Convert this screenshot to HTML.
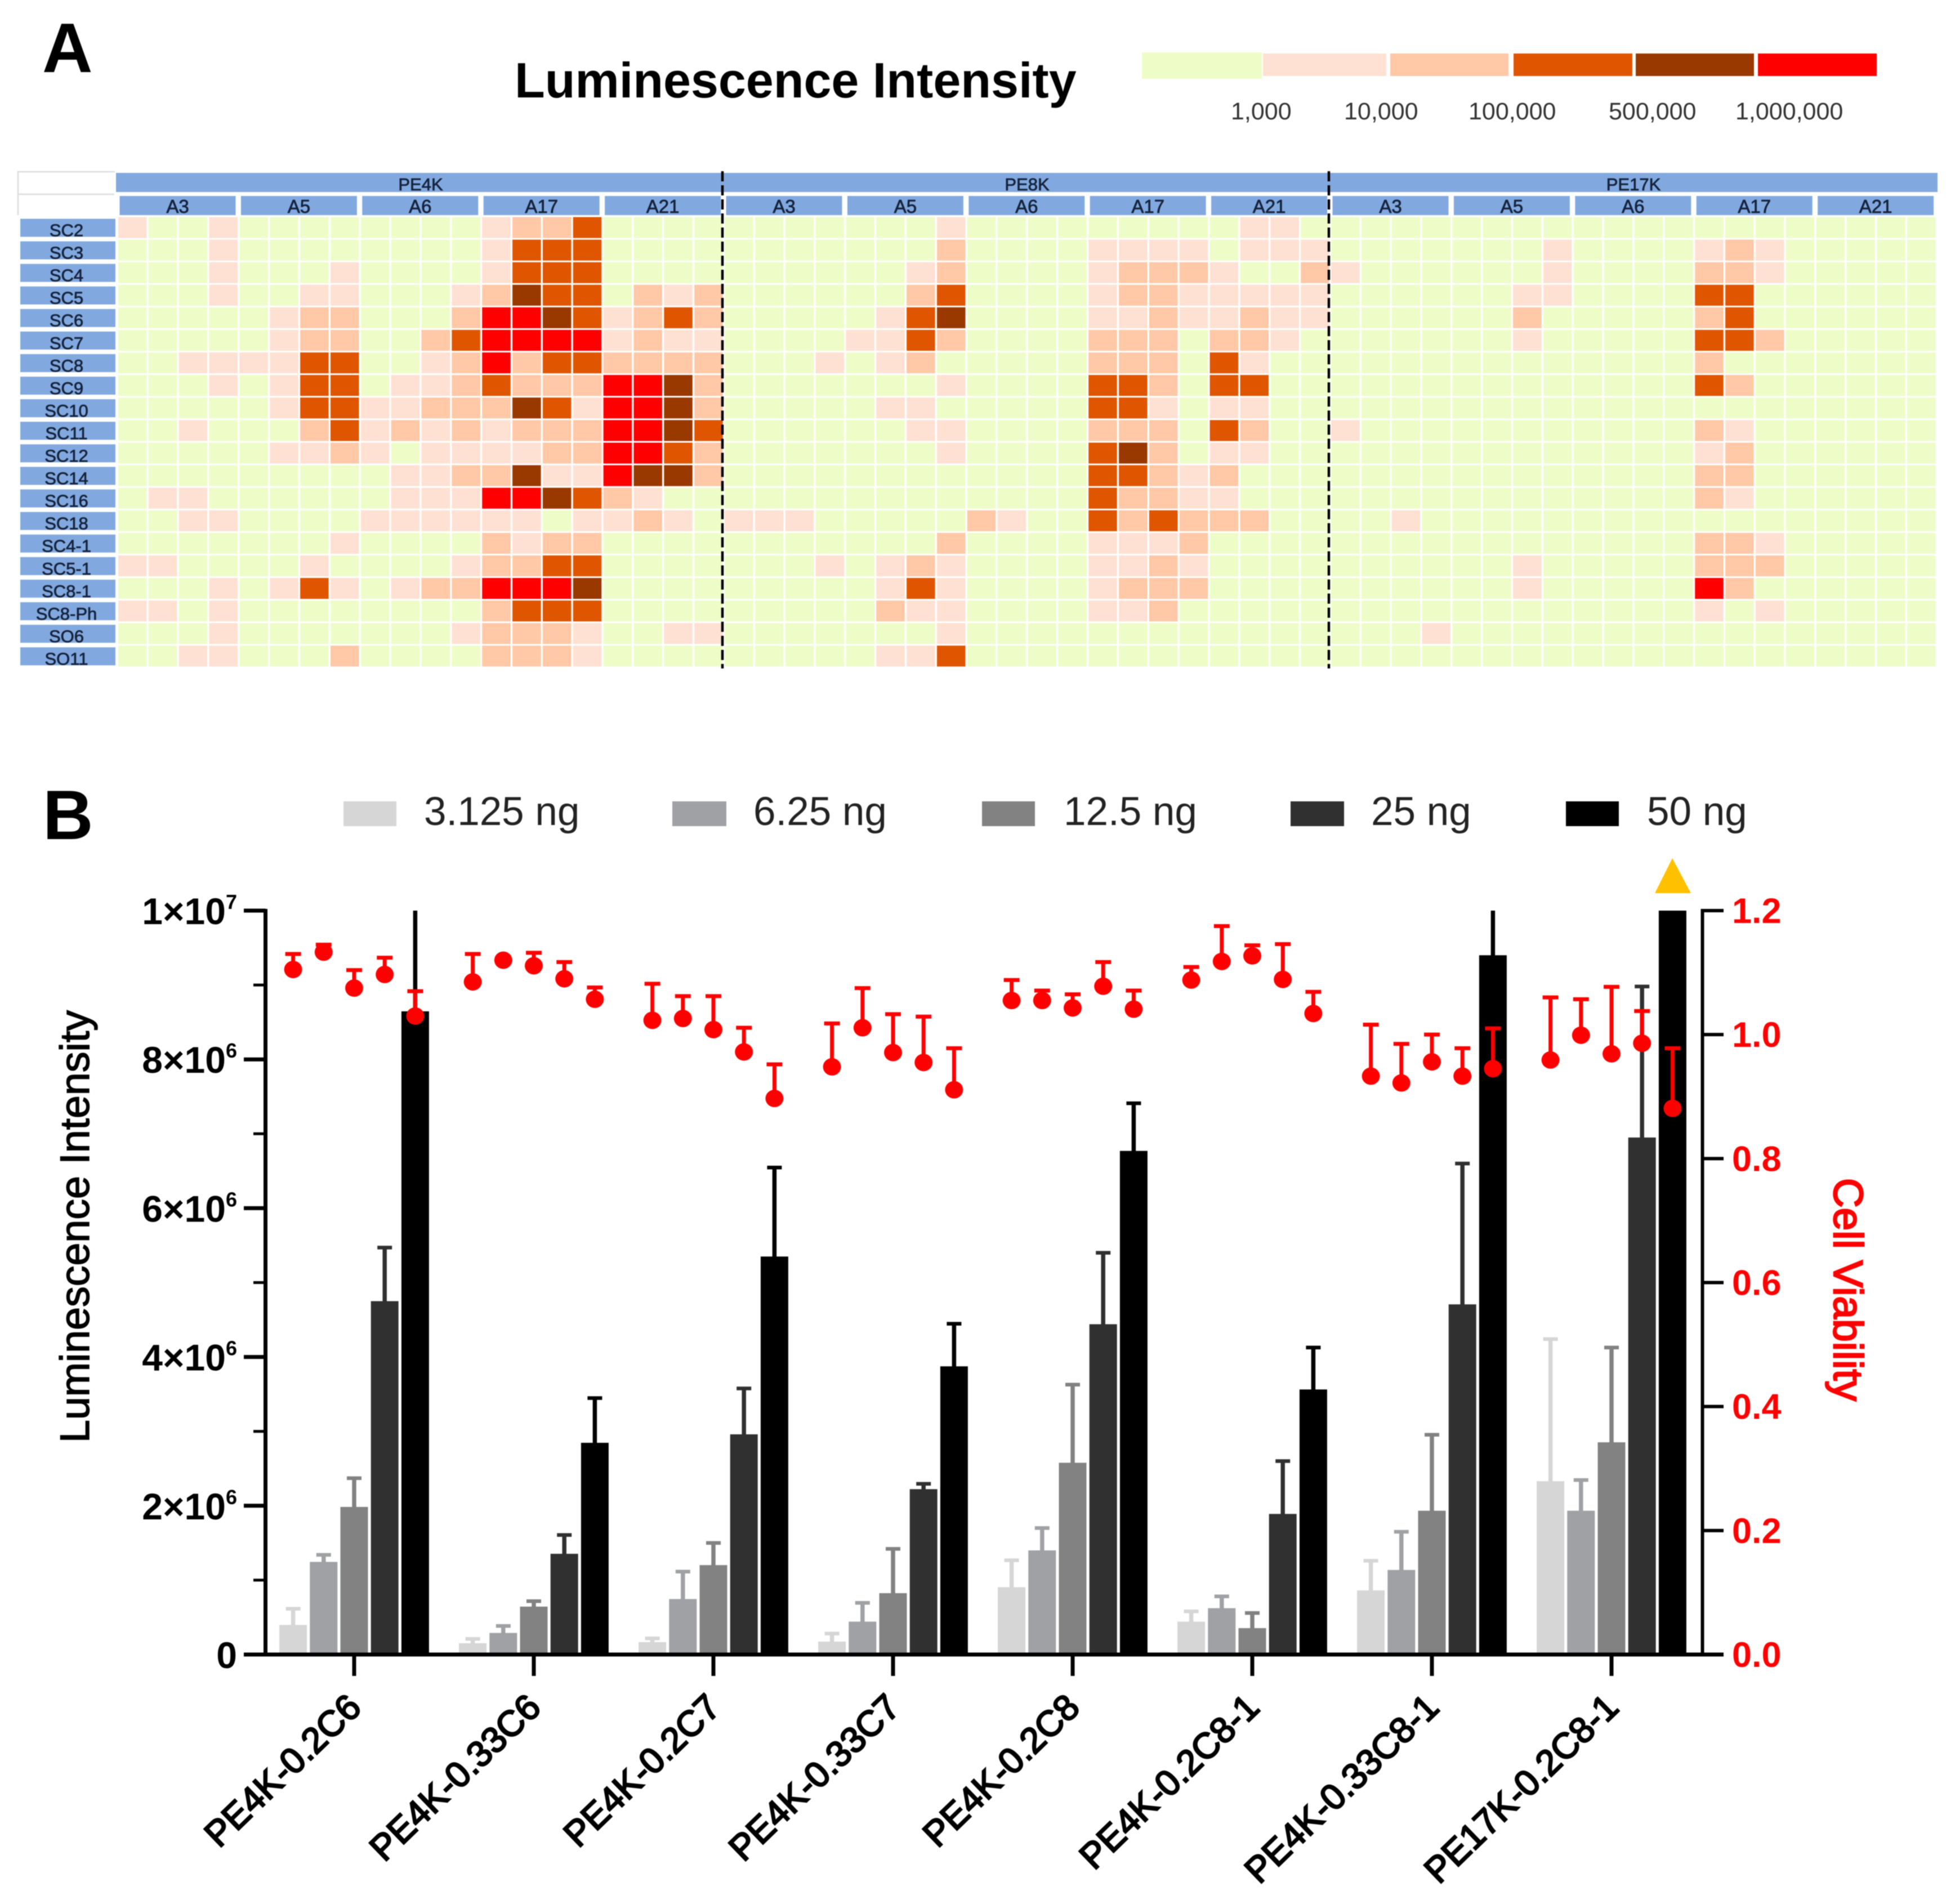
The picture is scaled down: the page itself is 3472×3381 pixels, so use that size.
<!DOCTYPE html>
<html lang="en">
<head>
<meta charset="utf-8">
<title>Luminescence Intensity</title>
<style>
html,body{margin:0;padding:0;background:#fff;}
svg{display:block;filter:blur(0.8px);}
text{font-family:"Liberation Sans",sans-serif;}
</style>
</head>
<body>
<svg id="figure" xmlns="http://www.w3.org/2000/svg" width="3472" height="3381" viewBox="0 0 3472 3381">
  <rect x="0" y="0" width="3472" height="3381" fill="#ffffff"/>

  <text x="75" y="128" font-size="124" font-weight="700" fill="#000">A</text>
  <text x="914" y="173" font-size="88" font-weight="700" fill="#000">Luminescence Intensity</text>

  <g>
    <rect x="2028" y="93" width="213" height="47" fill="#EEFDC8"/>
    <rect x="2243" y="95" width="219" height="40" fill="#FFE1D3"/>
    <rect x="2469" y="95" width="210" height="40" fill="#FFC8A6"/>
    <rect x="2688" y="95" width="211" height="40" fill="#E05500"/>
    <rect x="2905" y="95" width="210" height="40" fill="#993900"/>
    <rect x="3122" y="95" width="211" height="40" fill="#FF0000"/>
    <text x="2186" y="212" font-size="43" fill="#333">1,000</text>
    <text x="2387" y="212" font-size="43" fill="#333">10,000</text>
    <text x="2608" y="212" font-size="43" fill="#333">100,000</text>
    <text x="2857" y="212" font-size="43" fill="#333">500,000</text>
    <text x="3082" y="212" font-size="43" fill="#333">1,000,000</text>
  </g>

  <g id="heatmap">
    <line x1="31" y1="305" x2="204" y2="305" stroke="#dcdcdc" stroke-width="2.5"/>
    <line x1="31" y1="345" x2="203" y2="345" stroke="#dcdcdc" stroke-width="2.5"/>
    <line x1="32" y1="304" x2="32" y2="382" stroke="#dcdcdc" stroke-width="2.5"/>
  </g>

  <text x="76" y="1490" font-size="124" font-weight="700" fill="#000">B</text>
  <g>
    <rect x="610" y="1423" width="94" height="44" fill="#D6D6D6"/>
    <text x="753" y="1465" font-size="71" fill="#222">3.125 ng</text>
    <rect x="1194" y="1423" width="96" height="44" fill="#A0A1A4"/>
    <text x="1338" y="1465" font-size="71" fill="#222">6.25 ng</text>
    <rect x="1744" y="1423" width="94" height="44" fill="#828282"/>
    <text x="1889" y="1465" font-size="71" fill="#222">12.5 ng</text>
    <rect x="2292" y="1423" width="95" height="44" fill="#303030"/>
    <text x="2435" y="1465" font-size="71" fill="#222">25 ng</text>
    <rect x="2781" y="1423" width="94" height="44" fill="#000000"/>
    <text x="2925" y="1465" font-size="71" fill="#222">50 ng</text>
  </g>

  <g id="bars"></g>

  <text transform="translate(158 2178) rotate(-90)" text-anchor="middle" font-size="73.5" fill="#000" stroke="#000" stroke-width="1.5">Luminescence Intensity</text>
  <text transform="translate(3257 2290) rotate(90)" text-anchor="middle" font-size="73" fill="#ff0000" stroke="#ff0000" stroke-width="2.5">Cell Viability</text>
  <polygon points="2970,1524 3003,1586 2939,1586" fill="#FFC000"/>
</svg>

<script>
// ---------- Heatmap data (level 0-5 per cell) ----------
const heatRowLabels = ['SC2','SC3','SC4','SC5','SC6','SC7','SC8','SC9','SC10','SC11','SC12','SC14','SC16','SC18','SC4-1','SC5-1','SC8-1','SC8-Ph','SO6','SO11'];
const heatPolymers = ['PE4K','PE8K','PE17K'];
const heatAntibodies = ['A3','A5','A6','A17','A21'];
const heatPE4K = [
 [1,0,0,1, 0,0,0,0, 0,0,0,0, 1,2,2,3, 0,0,0,0],
 [0,0,0,1, 0,0,0,0, 0,0,0,0, 1,3,3,3, 0,0,0,0],
 [0,0,0,1, 0,0,0,1, 0,0,0,0, 1,3,3,3, 0,0,0,0],
 [0,0,0,1, 0,0,1,1, 0,0,0,1, 2,4,3,3, 0,2,1,2],
 [0,0,0,0, 0,1,2,2, 0,0,0,2, 5,5,4,3, 1,2,3,2],
 [0,0,0,0, 0,1,2,2, 0,0,2,3, 5,5,5,5, 1,2,1,1],
 [0,0,1,1, 1,1,3,3, 0,0,1,2, 5,2,3,3, 2,2,2,2],
 [0,0,0,1, 0,1,3,3, 0,1,1,2, 3,2,2,2, 5,5,4,2],
 [0,0,0,0, 0,1,3,3, 1,1,2,2, 2,4,3,1, 5,5,4,2],
 [0,0,1,0, 0,0,2,3, 1,2,1,2, 1,2,2,2, 5,5,4,3],
 [0,0,0,0, 0,1,1,2, 1,0,1,1, 1,1,2,2, 5,5,3,2],
 [0,0,0,0, 0,0,0,0, 0,1,1,2, 2,4,1,1, 5,4,4,2],
 [0,1,1,0, 0,0,0,0, 0,1,1,1, 5,5,4,3, 2,1,0,0],
 [0,0,1,1, 0,0,0,0, 1,1,1,1, 1,1,0,1, 1,2,1,0],
 [0,0,0,0, 0,0,0,1, 0,0,0,0, 2,1,2,2, 0,0,0,0],
 [1,1,0,0, 0,0,1,0, 0,0,0,1, 2,2,3,3, 0,0,0,0],
 [0,0,0,1, 0,1,3,1, 0,1,2,2, 5,5,5,4, 0,0,0,0],
 [1,1,0,1, 0,0,0,0, 0,0,0,0, 2,3,3,3, 0,0,0,0],
 [0,0,0,1, 0,0,0,0, 0,0,0,1, 2,2,2,1, 0,0,1,1],
 [0,0,1,1, 0,0,0,2, 0,0,0,0, 2,2,2,1, 0,0,0,0]
];
const heatPE8K = [
 [0,0,0,0, 0,0,0,1, 0,0,0,0, 0,0,0,0, 0,1,1,0],
 [0,0,0,0, 0,0,0,2, 0,0,0,0, 1,1,1,1, 0,1,1,1],
 [0,0,0,0, 0,0,1,2, 0,0,0,0, 1,2,2,2, 1,0,0,2],
 [0,0,0,0, 0,0,2,3, 0,0,0,0, 1,2,2,1, 1,1,1,1],
 [0,0,0,0, 0,1,3,4, 0,0,0,0, 1,1,2,1, 1,2,1,1],
 [0,0,0,0, 1,1,3,2, 0,0,0,0, 2,2,2,0, 2,2,1,0],
 [0,0,0,1, 0,1,2,0, 0,0,0,0, 2,2,2,0, 3,1,0,0],
 [0,0,0,0, 0,0,0,1, 0,0,0,0, 3,3,2,0, 3,3,0,0],
 [0,0,0,0, 0,1,1,0, 0,0,0,0, 3,3,1,0, 1,1,0,0],
 [0,0,0,0, 0,0,1,1, 0,0,0,0, 2,2,2,0, 3,2,0,0],
 [0,0,0,0, 0,0,0,1, 0,0,0,0, 3,4,2,0, 1,1,0,0],
 [0,0,0,0, 0,0,0,0, 0,0,0,0, 3,3,2,1, 2,0,0,0],
 [0,0,0,0, 0,0,0,0, 0,0,0,0, 3,2,2,1, 1,0,0,0],
 [1,1,1,0, 0,0,0,0, 2,1,0,0, 3,2,3,2, 2,2,0,0],
 [0,0,0,0, 0,0,0,2, 0,0,0,0, 1,1,1,2, 0,0,0,0],
 [0,0,0,1, 0,1,2,1, 0,0,0,0, 1,1,2,1, 0,0,0,0],
 [0,0,0,0, 0,1,3,1, 0,0,0,0, 1,2,2,2, 0,0,0,0],
 [0,0,0,0, 0,2,1,1, 0,0,0,0, 1,1,2,0, 0,0,0,0],
 [0,0,0,0, 0,0,0,1, 0,0,0,0, 0,0,0,0, 0,0,0,0],
 [0,0,0,0, 0,1,1,3, 0,0,0,0, 0,0,0,0, 0,0,0,0]
];
const heatPE17K = [
 [0,0,0,0, 0,0,0,0, 0,0,0,0, 0,0,0,0, 0,0,0,0],
 [0,0,0,0, 0,0,0,1, 0,0,0,0, 1,2,1,0, 0,0,0,0],
 [1,0,0,0, 0,0,0,1, 0,0,0,0, 2,2,1,0, 0,0,0,0],
 [0,0,0,0, 0,0,1,1, 0,0,0,0, 3,3,0,0, 0,0,0,0],
 [0,0,0,0, 0,0,2,0, 0,0,0,0, 2,3,0,0, 0,0,0,0],
 [0,0,0,0, 0,0,1,0, 0,0,0,0, 3,3,2,0, 0,0,0,0],
 [0,0,0,0, 0,0,0,0, 0,0,0,0, 2,0,0,0, 0,0,0,0],
 [0,0,0,0, 0,0,0,0, 0,0,0,0, 3,2,0,0, 0,0,0,0],
 [0,0,0,0, 0,0,0,0, 0,0,0,0, 0,0,0,0, 0,0,0,0],
 [1,0,0,0, 0,0,0,0, 0,0,0,0, 2,1,0,0, 0,0,0,0],
 [0,0,0,0, 0,0,0,0, 0,0,0,0, 1,2,0,0, 0,0,0,0],
 [0,0,0,0, 0,0,0,0, 0,0,0,0, 2,2,0,0, 0,0,0,0],
 [0,0,0,0, 0,0,0,0, 0,0,0,0, 2,1,0,0, 0,0,0,0],
 [0,0,1,0, 0,0,0,0, 0,0,0,0, 0,0,0,0, 0,0,0,0],
 [0,0,0,0, 0,0,0,0, 0,0,0,0, 2,2,1,0, 0,0,0,0],
 [0,0,0,0, 0,0,1,0, 0,0,0,0, 2,2,2,0, 0,0,0,0],
 [0,0,0,0, 0,0,1,0, 0,0,0,0, 5,2,0,0, 0,0,0,0],
 [0,0,0,0, 0,0,0,0, 0,0,0,0, 1,0,1,0, 0,0,0,0],
 [0,0,0,1, 0,0,0,0, 0,0,0,0, 0,0,0,0, 0,0,0,0],
 [0,0,0,0, 0,0,0,0, 0,0,0,0, 0,0,0,0, 0,0,0,0]
];
const heatPalette = ['#EEFDC8','#FFE1D3','#FFC8A6','#E05500','#993900','#FF0000'];

// ---------- Bar chart data ----------
const groupLabels = ['PE4K-0.2C6','PE4K-0.33C6','PE4K-0.2C7','PE4K-0.33C7','PE4K-0.2C8','PE4K-0.2C8-1','PE4K-0.33C8-1','PE17K-0.2C8-1'];
const doseColors = ['#D6D6D6','#A0A1A4','#828282','#303030','#000000'];
// luminescence in millions, one row per formulation, one column per dose
const lumMean = [
 [0.398,1.245,1.984,4.75,8.646],
 [0.152,0.29,0.644,1.354,2.846],
 [0.167,0.746,1.202,2.96,5.35],
 [0.174,0.442,0.825,2.223,3.874],
 [0.905,1.4,2.578,4.44,6.77],
 [0.442,0.623,0.355,1.89,3.563],
 [0.862,1.137,1.933,4.707,9.4],
 [2.33,1.933,2.853,6.95,10]
];
const lumErrTop = [
 [0.615,1.34,2.37,5.47,10],
 [0.21,0.384,0.717,1.607,3.447],
 [0.217,1.115,1.5,3.577,6.546],
 [0.282,0.695,1.42,2.295,4.446],
 [1.267,1.70,3.628,5.40,7.41],
 [0.58,0.782,0.558,2.6,4.127],
 [1.26,1.65,2.954,6.6,10],
 [4.24,2.346,4.127,8.98,10]
];
const viabMean = [
 [1.105,1.133,1.075,1.097,1.03],
 [1.085,1.12,1.111,1.09,1.057],
 [1.023,1.026,1.008,0.972,0.897],
 [0.948,1.011,0.971,0.955,0.911],
 [1.055,1.055,1.043,1.078,1.041],
 [1.088,1.118,1.127,1.089,1.034],
 [0.933,0.922,0.956,0.933,0.945],
 [0.959,0.999,0.969,0.986,0.881]
];
const viabErrTop = [
 [1.13,1.145,1.104,1.124,1.07],
 [1.13,1.12,1.132,1.117,1.076],
 [1.082,1.062,1.062,1.011,0.952],
 [1.018,1.075,1.033,1.029,0.978],
 [1.088,1.071,1.065,1.117,1.071],
 [1.109,1.175,1.144,1.146,1.069],
 [1.016,0.985,1.0,0.978,1.01],
 [1.06,1.057,1.077,1.038,0.978]
];
const leftTickValues = [0,2,4,6,8,10];
const leftTickMantissas = ['0','2×10','4×10','6×10','8×10','1×10'];
const leftTickExponents = ['','6','6','6','6','7'];
const leftMinorTicks = [1,3,5,7,9];
const rightTickValues = [0,0.2,0.4,0.6,0.8,1.0,1.2];
const rightTickLabels = ['0.0','0.2','0.4','0.6','0.8','1.0','1.2'];

const NS = 'http://www.w3.org/2000/svg';
function mk(tag, attrs, parent, txt){
  const el = document.createElementNS(NS, tag);
  for (const k in attrs) el.setAttribute(k, attrs[k]);
  if (txt !== undefined) el.textContent = txt;
  parent.appendChild(el);
  return el;
}

// ---------- Heatmap ----------
const hm = document.getElementById('heatmap');
const colWidth = 53.85, rowHeight = 40.05, gridLeft = 208.5, gridTop = 385.5;
const headerInk = '#15233d';
function colX(c){ return gridLeft + c * colWidth; }
function rowY(r){ return gridTop + r * rowHeight; }
const heatGroups = [heatPE4K, heatPE8K, heatPE17K];

heatGroups.forEach(function(matrix, g){
  matrix.forEach(function(row, r){
    row.forEach(function(level, c){
      const cell = mk('rect', {x: colX(g*20+c)+1.5, y: rowY(r), width: colWidth-3.3, height: rowHeight-2.9, fill: heatPalette[level]}, hm);
      
      
    });
  });
});

heatPolymers.forEach(function(name, g){
  const bx = g === 0 ? 206 : colX(g*20);
  const bw = (g === 2 ? 3441 : colX((g+1)*20)) - bx;
  const band = mk('rect', {x: bx, y: 307, width: bw, height: 34, fill: '#82A9DF'}, hm);
  
  
  const t = mk('text', {x: colX(g*20+10), y: 338, 'text-anchor': 'middle', 'font-size': 31, fill: headerInk, stroke: headerInk, 'stroke-width': 0.8}, hm, name);
  
  
  heatAntibodies.forEach(function(ab, k){
    const left = colX(g*20 + k*4) + 4;
    const box = mk('rect', {x: left, y: 348, width: 206, height: 34, fill: '#82A9DF'}, hm);
    
    
    const at = mk('text', {x: left + 103, y: 378, 'text-anchor': 'middle', 'font-size': 33, fill: headerInk, stroke: headerInk, 'stroke-width': 0.8}, hm, ab);
    
    
  });
});

heatRowLabels.forEach(function(label, r){
  const box = mk('rect', {x: 36, y: rowY(r)+3, width: 169, height: 32, fill: '#82A9DF'}, hm);
  
  
  const t = mk('text', {x: 118, y: rowY(r)+34, 'text-anchor': 'middle', 'font-size': 31, fill: headerInk, stroke: headerInk, 'stroke-width': 0.8}, hm, label);
  
  
});

[1, 2].forEach(function(g){
  const dx = colX(g*20) - 2.5;
  const d = mk('line', {x1: dx, x2: dx, y1: 304, y2: 1187, stroke: '#000', 'stroke-width': 4.5, 'stroke-dasharray': '18 7'}, hm);
  
  
});

// ---------- Bar chart ----------
const bars = document.getElementById('bars');
const baseY = 2938, plotH = 1321, leftAxisX = 471.5, rightAxisX = 3023.5;
function yLeft(v){ return baseY - v / 10 * plotH; }
function yRight(v){ return baseY - v / 1.2 * plotH; }
function xGroup(i){ return 629 + i * 319; }
function xBar(i, d){ return xGroup(i) + (d - 2) * 54.2; }

lumMean.forEach(function(row, i){
  row.forEach(function(val, d){
    const cx = xBar(i, d), color = doseColors[d], top = yLeft(val), et = lumErrTop[i][d];
    const eLine = mk('line', {x1: cx, x2: cx, y1: top + 2, y2: yLeft(et), stroke: color, 'stroke-width': 7.5}, bars);
    
    
    if (et < 10) {
      const cap = mk('line', {x1: cx - 13, x2: cx + 13, y1: yLeft(et), y2: yLeft(et), stroke: color, 'stroke-width': 6.5}, bars);
      
      
    }
    const bar = mk('rect', {x: cx - 24.5, y: top, width: 49, height: baseY - top, fill: color}, bars);
    
    
  });
});

viabMean.forEach(function(row, i){
  row.forEach(function(val, d){
    const cx = xBar(i, d), y = yRight(val), et = yRight(viabErrTop[i][d]);
    if (viabErrTop[i][d] > val) {
      const l = mk('line', {x1: cx, x2: cx, y1: y, y2: et, stroke: '#FF0000', 'stroke-width': 7}, bars);
      
      
      const cap = mk('line', {x1: cx - 14, x2: cx + 14, y1: et, y2: et, stroke: '#FF0000', 'stroke-width': 7}, bars);
      
      
    }
    const dot = mk('ellipse', {cx: cx, cy: y, rx: 16, ry: 15.5, fill: '#FF0000'}, bars);
    
    
  });
});

// axes
const leftAxis = mk('line', {x1: leftAxisX, x2: leftAxisX, y1: yLeft(10) - 3, y2: baseY, stroke: '#000', 'stroke-width': 7}, bars);


const rightAxis = mk('line', {x1: rightAxisX, x2: rightAxisX, y1: yRight(1.2) - 3, y2: baseY, stroke: '#000', 'stroke-width': 6}, bars);


const xAxis = mk('line', {x1: 433, x2: 3061, y1: baseY, y2: baseY, stroke: '#000', 'stroke-width': 7}, bars);



leftTickValues.forEach(function(v, i){
  const y = yLeft(v);
  const tick = mk('line', {x1: 433, x2: leftAxisX, y1: y, y2: y, stroke: '#000', 'stroke-width': 7}, bars);
  
  
  const t = mk('text', {x: 421, y: y + 24, 'text-anchor': 'end', 'font-size': 66, 'font-weight': 700, fill: '#000'}, bars, leftTickMantissas[i]);
  
  
  if (leftTickExponents[i]) {
    const s = mk('tspan', {'font-size': 36, dy: -27}, t, leftTickExponents[i]);
    
    
  }
});
leftMinorTicks.forEach(function(v){
  const y = yLeft(v);
  const tick = mk('line', {x1: 450, x2: leftAxisX, y1: y, y2: y, stroke: '#000', 'stroke-width': 5}, bars);
  
  
});
rightTickValues.forEach(function(v, i){
  const y = yRight(v);
  const tick = mk('line', {x1: rightAxisX, x2: 3061, y1: y, y2: y, stroke: '#000', 'stroke-width': 6}, bars);
  
  
  const t = mk('text', {x: 3076, y: y + 22, 'font-size': 63, 'font-weight': 700, fill: '#FF0000'}, bars, rightTickLabels[i]);
  
  
});
groupLabels.forEach(function(label, i){
  const x = xGroup(i);
  const tick = mk('line', {x1: x, x2: x, y1: baseY, y2: 2976, stroke: '#000', 'stroke-width': 7}, bars);
  
  
  const t = mk('text', {transform: 'translate(' + (x + 16) + ' 3036) rotate(-44)', 'text-anchor': 'end', 'font-size': 64, fill: '#000', stroke: '#000', 'stroke-width': 2.6}, bars, label);
  
  
});
</script>
</body>
</html>
